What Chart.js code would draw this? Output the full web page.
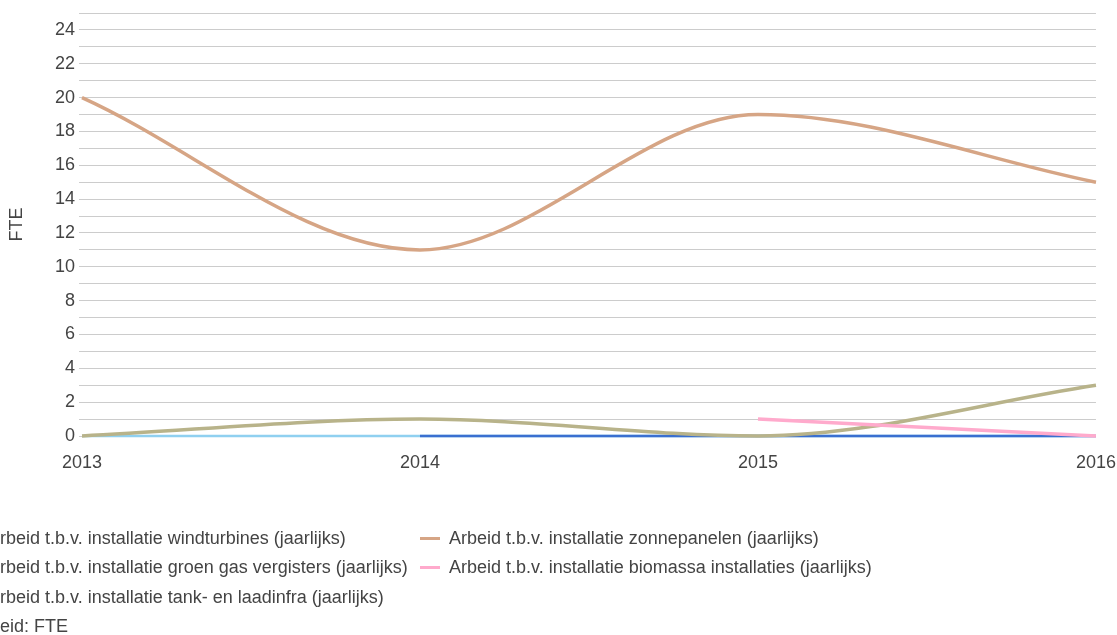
<!DOCTYPE html>
<html>
<head>
<meta charset="utf-8">
<script src="https://cdn.jsdelivr.net/npm/chart.js@4"></script>
<style>
  html, body { margin: 0; padding: 0; background: #fff; overflow: hidden; }
  #wrap { position: absolute; left: 0; top: 0; width: 1117px; height: 475px; overflow: hidden; }
  #legend { position: absolute; left: 0; top: 0; width: 1117px; height: 635px; pointer-events: none;
            font-family: "Liberation Sans", Arial, sans-serif; font-size: 18px; color: #444; }
  .item { position: absolute; white-space: nowrap; line-height: 20px; }
  .sw { display: inline-block; width: 20px; height: 3px; vertical-align: middle; margin-right: 9px; position: relative; top: -1px; }
</style>
</head>
<body>
<div id="wrap"><canvas id="c"></canvas></div>
<div id="legend"></div>
<script>
const years = ['2013', '2014', '2015', '2016'];
const seriesNames = [
  'Arbeid t.b.v. installatie windturbines (jaarlijks)',
  'Arbeid t.b.v. installatie groen gas vergisters (jaarlijks)',
  'Arbeid t.b.v. installatie tank- en laadinfra (jaarlijks)',
  'Arbeid t.b.v. installatie zonnepanelen (jaarlijks)',
  'Arbeid t.b.v. installatie biomassa installaties (jaarlijks)'
];
const windturbines = [null, 0, 0, 0];
const groenGas = [0, 0, 0, 0];
const tankLaadinfra = [0, 1, 0, 3];
const zonnepanelen = [20, 11, 19, 15];
const biomassa = [null, null, 1, 0];
const unitLabel = 'Eenheid: FTE';
const yTitle = 'FTE';

const colors = ['#3a6fd0', '#8fd0f0', '#b8b38a', '#d6a585', '#ffaacc'];
const widths = [2.5, 2.5, 3.5, 3.5, 3.5];
const drawOrder = [4, 5, 2, 3, 1]; // higher = drawn lower

const allData = [windturbines, groenGas, tankLaadinfra, zonnepanelen, biomassa];

const datasets = allData.map((d, i) => ({
  label: seriesNames[i],
  data: d,
  borderColor: colors[i],
  backgroundColor: colors[i],
  borderWidth: widths[i],
  pointRadius: 0,
  pointHoverRadius: 0,
  fill: false,
  clip: false,
  cubicInterpolationMode: 'monotone',
  spanGaps: false,
  order: drawOrder[i]
}));

const canvas = document.getElementById('c');
canvas.width = 1124; canvas.height = 475;
const FONT = '"Liberation Sans", Arial, sans-serif';

new Chart(canvas, {
  type: 'line',
  data: { labels: years, datasets },
  options: {
    responsive: false,
    animation: false,
    devicePixelRatio: 1,
    layout: { padding: { top: 12, right: 0, left: 0, bottom: 0 } },
    plugins: { legend: { display: false }, tooltip: { enabled: false } },
    scales: {
      x: {
        offset: false,
        grid: { display: false },
        border: { display: false },
        ticks: { color: '#444', font: { family: FONT, size: 18 }, padding: 8, maxRotation: 0, autoSkip: false },
        afterFit: (s) => { s.height = 39; }
      },
      y: {
        min: 0, max: 25,
        grid: { color: '#cccccc', lineWidth: 1, drawTicks: true, tickLength: 3, tickColor: '#cccccc' },
        border: { display: false },
        ticks: {
          stepSize: 1,
          autoSkip: false,
          color: '#444',
          font: { family: FONT, size: 18, lineHeight: 1 },
          padding: 4,
          callback: (v) => (v % 2 === 0 && v <= 24) ? String(v) : ''
        },
        title: { display: true, text: yTitle, color: '#444', font: { family: FONT, size: 18 }, padding: { top: 6, bottom: 0 } },
        afterFit: (s) => { s.width = 82; }
      }
    }
  }
});

// HTML legend (left column is cut off by the page edge, as in the reference)
const legend = document.getElementById('legend');
const leftTextX = -12, rightSwX = 420;
const rowsCenter = [538, 567, 597, 626];
const entries = [
  { x: leftTextX - 29, y: rowsCenter[0], i: 0 },
  { x: leftTextX - 29, y: rowsCenter[1], i: 1 },
  { x: leftTextX - 29, y: rowsCenter[2], i: 2 },
  { x: rightSwX, y: rowsCenter[0], i: 3 },
  { x: rightSwX, y: rowsCenter[1], i: 4 }
];
entries.forEach(e => {
  const div = document.createElement('div');
  div.className = 'item';
  div.style.left = e.x + 'px';
  div.style.top = (e.y - 10) + 'px';
  const sw = document.createElement('span');
  sw.className = 'sw';
  sw.style.background = colors[e.i];
  div.appendChild(sw);
  div.appendChild(document.createTextNode(seriesNames[e.i]));
  legend.appendChild(div);
});
const u = document.createElement('div');
u.className = 'item';
u.style.left = '-42px';
u.style.top = (rowsCenter[3] - 10) + 'px';
u.textContent = unitLabel;
legend.appendChild(u);
</script>
</body>
</html>
